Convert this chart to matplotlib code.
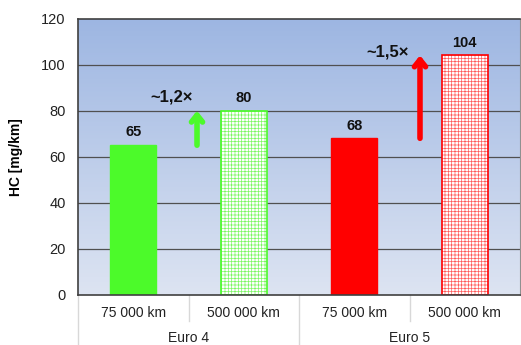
import numpy as np
import matplotlib
matplotlib.use("Agg")
import matplotlib.pyplot as plt
from matplotlib.colors import LinearSegmentedColormap, to_rgba

plt.rcParams['font.family'] = ['Liberation Sans', 'DejaVu Sans']
plt.rcParams['hatch.linewidth'] = 0.5

# HC emissions per mileage and Euro class
mileage = ['75 000 km', '500 000 km', '75 000 km', '500 000 km']
groups = ['Euro 4', 'Euro 5']
hc_values = [65, 80, 68, 104]
ratios = ['~1,2×', '~1,5×']
ytick_vals = [0, 20, 40, 60, 80, 100, 120]

green = '#4cfa2a'
red = '#ff0000'

fig = plt.figure(figsize=(5.21, 3.45), dpi=100)
ax = fig.add_axes([78 / 521, 50 / 345, 442 / 521, 276.5 / 345])

# background gradient
grad = LinearSegmentedColormap.from_list('bg', ['#dde4f2', '#9db6e2'])
ax.imshow(np.linspace(0, 1, 256).reshape(-1, 1), cmap=grad, aspect='auto',
          extent=[0, 1, 0, 1], transform=ax.transAxes, origin='lower', zorder=0)

x = np.arange(len(hc_values))
ax.set_xlim(-0.5, 3.5)
ax.set_ylim(0, 120)

for y in ytick_vals[1:-1]:
    ax.axhline(y, color='#505050', lw=0.9, zorder=1)


def hatched_bar(xpos, val, edge, hatch_col):
    b = ax.bar(xpos, val, w, color='white', edgecolor=edge, hatch='+++++',
               lw=1.2, zorder=2)[0]
    b._hatch_color = to_rgba(hatch_col)
    return b


w = 0.415
ax.bar(x[0], hc_values[0], w, color=green, edgecolor=green, lw=1, zorder=2)
hatched_bar(x[1], hc_values[1], green, '#7cf762')
ax.bar(x[2], hc_values[2], w, color=red, edgecolor=red, lw=1, zorder=2)
hatched_bar(x[3], hc_values[3], red, '#ff5a5a')

for xi, v in zip(x, hc_values):
    ax.text(xi, v + 2.5, str(v), ha='center', va='bottom', fontsize=10.5,
            fontweight='bold', color='#111111', zorder=4)

# growth arrows between mileages
arrow = '->,head_width=0.4,head_length=0.5'
ax.annotate('', xy=(0.577, hc_values[1]), xytext=(0.577, hc_values[0]),
            arrowprops=dict(arrowstyle=arrow, color=green, lw=4,
                            shrinkA=0, shrinkB=0), zorder=4)
ax.annotate('', xy=(2.595, hc_values[3]), xytext=(2.595, hc_values[2]),
            arrowprops=dict(arrowstyle=arrow, color=red, lw=4,
                            shrinkA=0, shrinkB=0), zorder=4)
ax.text(0.35, 86, ratios[0], ha='center', va='center', fontsize=12,
        fontweight='bold', color='#111111')
ax.text(2.305, 105.6, ratios[1], ha='center', va='center', fontsize=12,
        fontweight='bold', color='#111111')

ax.set_yticks(ytick_vals)
ax.set_yticklabels([str(v) for v in ytick_vals], fontsize=10.5, color='#222222')
ax.tick_params(axis='y', length=0, pad=9)
ax.set_xticks([])
ax.set_ylabel('HC [mg/km]', fontsize=10, fontweight='bold', labelpad=13)

for side in ['top', 'left', 'bottom']:
    ax.spines[side].set_color('#404040')
    ax.spines[side].set_linewidth(1.2)
ax.spines['right'].set_color('#909090')

# category axis: mileage and Euro class labels with separators
tr = ax.get_xaxis_transform()
for xi, lab in zip(x, mileage):
    ax.text(xi, -0.065, lab, transform=tr, ha='center', va='center',
            fontsize=10, color='#222222')
for gi, g in enumerate(groups):
    ax.text(0.5 + 2 * gi, -0.155, g, transform=tr, ha='center', va='center',
            fontsize=10, color='#222222')
for sx in [0.5, 2.5]:
    ax.plot([sx, sx], [0, -0.095], transform=tr, color='#d8d8d8', lw=1, clip_on=False)
for sx in [-0.5, 1.5]:
    ax.plot([sx, sx], [0, -0.185], transform=tr, color='#d8d8d8', lw=1, clip_on=False)

fig.savefig('out.png', dpi=100)
